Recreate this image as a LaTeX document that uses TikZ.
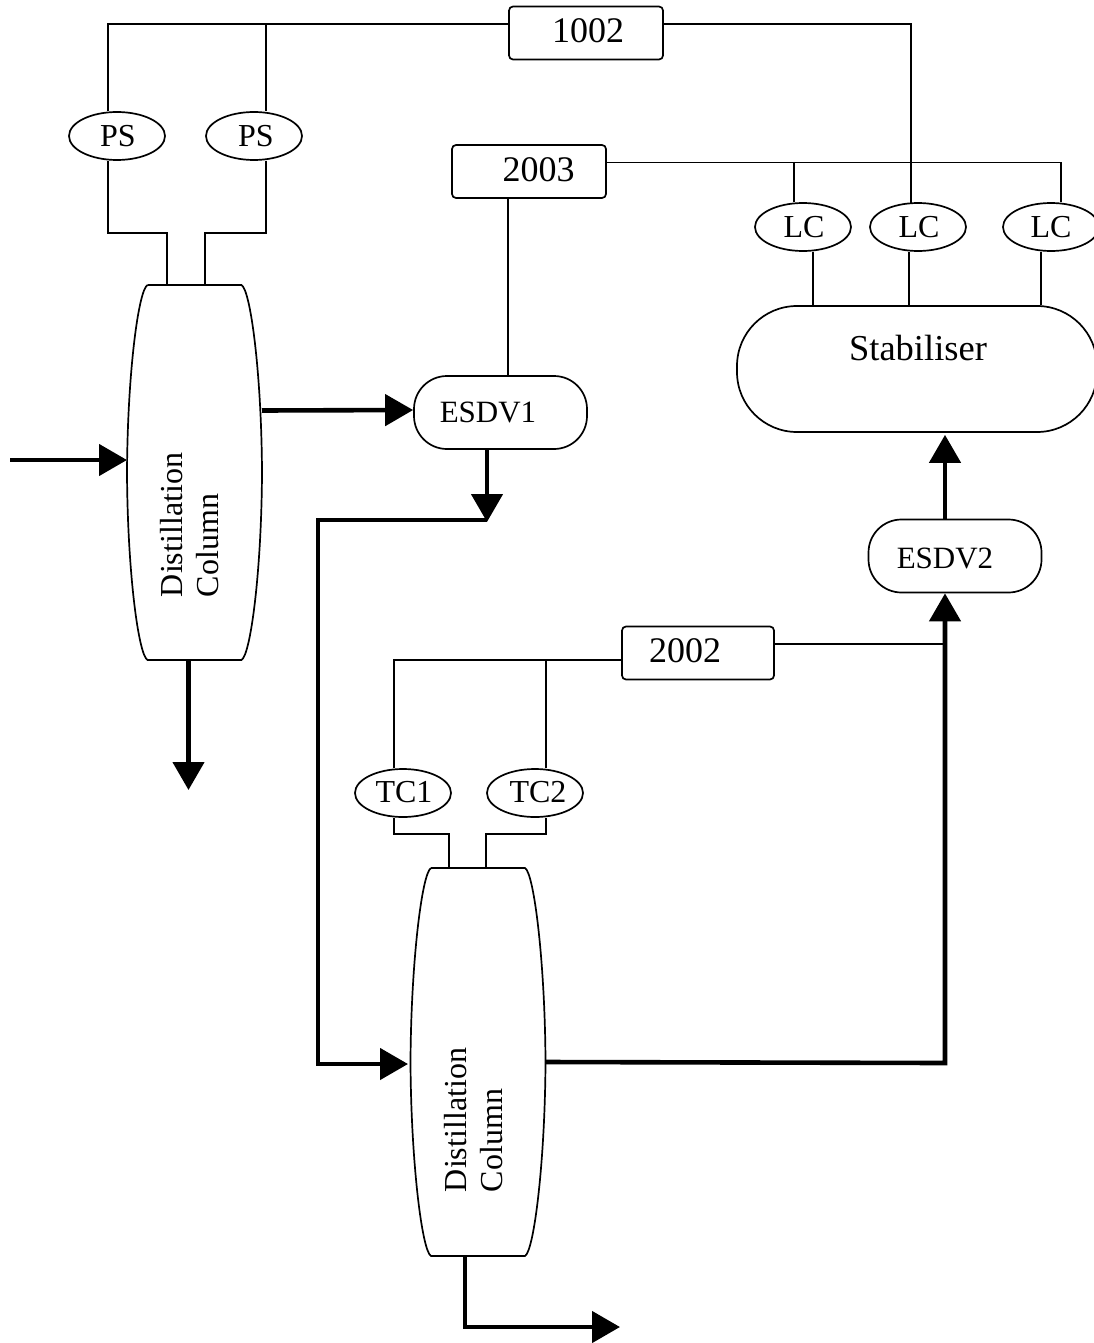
\documentclass[tikz,border=0pt]{standalone}
\usepackage{fontspec}
\setmainfont{Liberation Serif}
\usetikzlibrary{arrows.meta,shapes.geometric}
\tikzset{
  thinline/.style={line width=1.7pt,black},
  thickline/.style={line width=4.6pt,black,line join=miter},
  arrowline/.style={thickline,-{Triangle[length=28pt,width=31pt]}},
  tagbox/.style={draw,line width=1.7pt,rounded corners=4pt,minimum width=154pt,minimum height=53pt,inner sep=0pt},
  tagtext/.style={font=\fontsize{36}{36}\selectfont,inner sep=0pt},
  sensor/.style={draw,ellipse,line width=1.7pt,minimum width=96pt,minimum height=48pt,inner sep=0pt},
  sensortext/.style={font=\fontsize{32}{32}\selectfont,inner sep=0pt},
  valve/.style={draw,line width=1.7pt,rounded corners=33pt,minimum width=173pt,minimum height=73pt,inner sep=0pt},
  valvetext/.style={font=\fontsize{31}{31}\selectfont,inner sep=0pt},
  vessel/.style={inner sep=0pt,minimum width=135pt,outer sep=0pt},
  vessellabel/.style={rotate=90,align=left,font=\fontsize{32}{36}\selectfont},
}
\newcommand{\barrel}[1]{%
  \draw[thinline] ([xshift=-47pt]#1.north) -- ([xshift=47pt]#1.north)
    .. controls ([xshift=56pt,yshift=-5pt]#1.north) and ([xshift=-0.5pt,yshift=100pt]#1.east) .. (#1.east)
    .. controls ([xshift=-0.5pt,yshift=-100pt]#1.east) and ([xshift=56pt,yshift=5pt]#1.south) .. ([xshift=47pt]#1.south)
    -- ([xshift=-47pt]#1.south)
    .. controls ([xshift=-56pt,yshift=5pt]#1.south) and ([xshift=0.5pt,yshift=-100pt]#1.west) .. (#1.west)
    .. controls ([xshift=0.5pt,yshift=100pt]#1.west) and ([xshift=-56pt,yshift=-5pt]#1.north) .. ([xshift=-47pt]#1.north);}
\begin{document}
\begin{tikzpicture}[x=1pt,y=-1pt]
\useasboundingbox (0,0) rectangle (1094,1343);
% nodes
\node[tagbox] (b1002) at (586,33) {};
\node[tagtext] (t1002) at (588,31) {1002};
\node[tagbox] (b2003) at (529,171.5) {};
\node[tagtext] (t2003) at (538.5,170) {2003};
\node[tagbox,minimum width=152pt] (b2002) at (698,653) {};
\node[tagtext] (t2002) at (685,651) {2002};
\node[sensor] (ps1) at (117,136) {};
\node[sensortext] (tps1) at (118,136) {PS};
\node[sensor] (ps2) at (254,136) {};
\node[sensortext] (tps2) at (256,136) {PS};
\node[sensor] (lc1) at (803,227) {};
\node[sensortext] (tlc1) at (804,227) {LC};
\node[sensor] (lc2) at (918,227) {};
\node[sensortext] (tlc2) at (919,227) {LC};
\node[sensor] (lc3) at (1051,227) {};
\node[sensortext] (tlc3) at (1051,227) {LC};
\node[sensor] (tc1) at (403,793) {};
\node[sensortext] (ttc1) at (404,792) {TC1};
\node[sensor] (tc2) at (535,793) {};
\node[sensortext] (ttc2) at (538,792) {TC2};
\node[valve] (esdv1) at (500.5,412.5) {};
\node[valvetext] (tesdv1) at (488,412) {ESDV1};
\node[valve] (esdv2) at (955,556) {};
\node[valvetext] (tesdv2) at (945,558) {ESDV2};
\node[draw,line width=1.7pt,rounded corners=60pt,minimum width=360pt,minimum height=126pt,inner sep=0pt] (stab) at (917,369) {};
\node[font=\fontsize{36.5}{36.5}\selectfont] (stabtext) at (918,348) {Stabiliser};
\node[vessel,minimum height=375pt] (col1) at (194.5,472.5) {};
\node[vessel,minimum height=388pt] (col2) at (478,1062) {};
\barrel{col1}
\barrel{col2}
\node[vessellabel] (col1text) at (190,525) {Distillation\\Column};
\node[vessellabel] (col2text) at (474,1120) {Distillation\\Column};
\coordinate (feed) at (10,460);
\coordinate (junction) at (487,520);
\coordinate (out1) at (188.5,790);
\coordinate (out2) at (620,1327);
% signal lines
\draw[thinline] ([yshift=9pt]b1002.west) -| ([xshift=-9pt]ps1.north);
\draw[thinline] (266,24) -- ([xshift=12pt]ps2.north);
\draw[thinline] ([yshift=9pt]b1002.east) -| (911,203);
\draw[thinline] ([xshift=-9pt]ps1.south) |- (167,233) -- ([xshift=-27.5pt]col1.north);
\draw[thinline] ([xshift=12pt]ps2.south) |- (205,233) -- ([xshift=10.5pt]col1.north);
\draw[thinline] ([yshift=9pt]b2003.east) -| ([xshift=10pt]lc3.north);
\draw[thinline] (794,162) -- ([xshift=-9pt]lc1.north);
\draw[thinline] ([xshift=10pt]lc1.south) -- ([xshift=-104pt]stab.north);
\draw[thinline] ([xshift=-9pt]lc2.south) -- ([xshift=-8pt]stab.north);
\draw[thinline] ([xshift=-10pt]lc3.south) -- ([xshift=124pt]stab.north);
\draw[thinline] ([xshift=-21pt]b2003.south) -- ([xshift=7.5pt]esdv1.north);
\draw[thinline] ([yshift=-7pt]b2002.west) -| ([xshift=-9pt]tc1.north);
\draw[thinline] (546,660) -- ([xshift=11pt]tc2.north);
\draw[thinline] ([yshift=9pt]b2002.east) -- (945,644);
\draw[thinline] ([xshift=-9pt]tc1.south) |- (449,834) -- ([xshift=-29pt]col2.north);
\draw[thinline] ([xshift=11pt]tc2.south) |- (486,834) -- ([xshift=8pt]col2.north);
% process lines
\draw[arrowline] (feed) -- (col1.west |- feed);
\draw[arrowline] ([yshift=62pt]col1.east) -- (esdv1.west |- {(0,410)});
\draw[arrowline] ([xshift=-6pt]col1.south) -- (out1);
\draw[arrowline] ([xshift=-13.5pt]esdv1.south) -- ([yshift=-2pt]junction);
\draw[thickline,-{Triangle[length=28pt,width=31pt]}] (junction) -- (318,520) -- (318,1064) -- (408,1064);
\draw[arrowline] (col2.east) -- (945,1063) -- ([xshift=-10pt]esdv2.south);
\draw[arrowline] ([xshift=-10pt]esdv2.north) -- ([xshift=28pt,yshift=-2pt]stab.south);
\draw[arrowline] ([xshift=-13pt]col2.south) -- (465,1327) -- (out2);
\end{tikzpicture}
\end{document}
